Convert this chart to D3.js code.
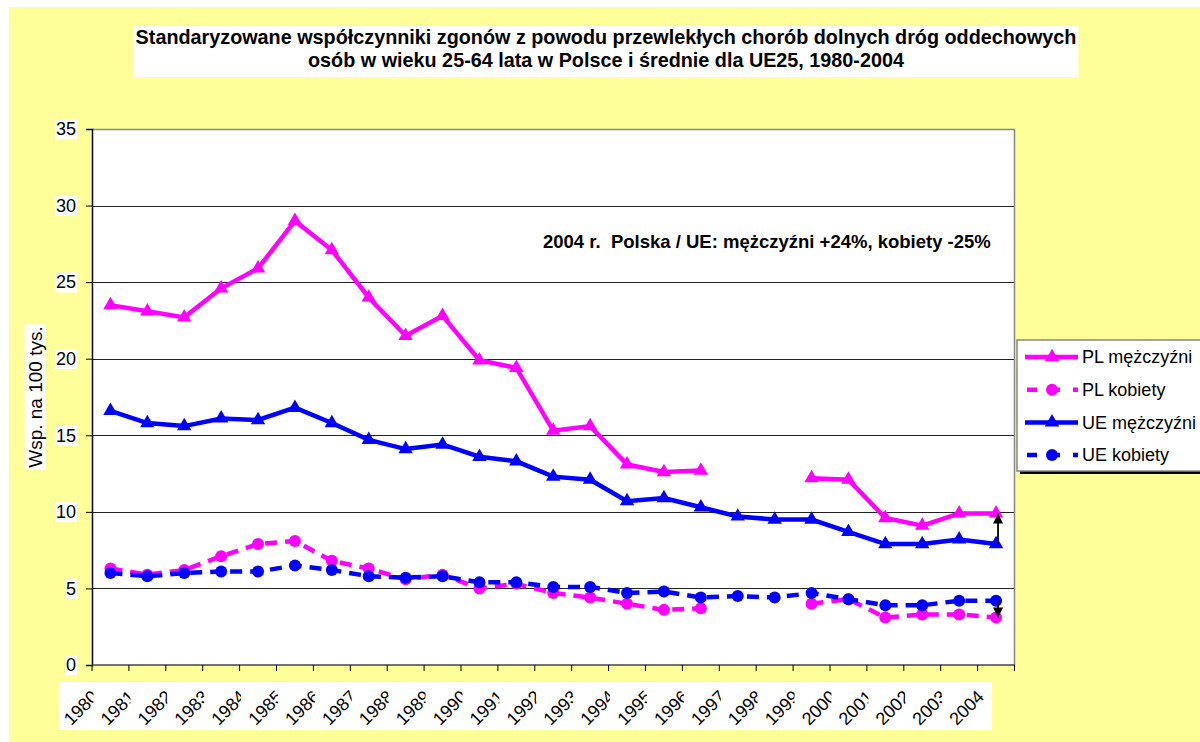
<!DOCTYPE html>
<html>
<head>
<meta charset="utf-8">
<script src="https://cdn.jsdelivr.net/npm/d3@7"></script>
<style>
  body { margin: 0; background: #fff; }
  svg { display: block; font-family: Arial, "Liberation Sans", sans-serif; }
</style>
</head>
<body>
<svg id="chart" width="1200" height="742"></svg>
<script>
const years = ["1980", "1981", "1982", "1983", "1984", "1985", "1986", "1987", "1988", "1989",
               "1990", "1991", "1992", "1993", "1994", "1995", "1996", "1997", "1998", "1999",
               "2000", "2001", "2002", "2003", "2004"]

// null = brak danych (1997-1998 dla Polski)
const plMen   = [23.5, 23.1, 22.7, 24.6, 25.9, 29.0, 27.1, 24.0, 21.5, 22.8, 19.9, 19.4, 15.3, 15.6, 13.1, 12.6, 12.7, null, null, 12.2, 12.1, 9.6, 9.1, 9.9, 9.9]
const plWomen = [6.3, 5.9, 6.2, 7.1, 7.9, 8.1, 6.8, 6.3, 5.6, 5.9, 5.0, 5.3, 4.7, 4.4, 4.0, 3.6, 3.7, null, null, 4.0, 4.3, 3.1, 3.3, 3.3, 3.1]
const ueMen   = [16.6, 15.8, 15.6, 16.1, 16.0, 16.8, 15.8, 14.7, 14.1, 14.4, 13.6, 13.3, 12.3, 12.1, 10.7, 10.9, 10.3, 9.7, 9.5, 9.5, 8.7, 7.9, 7.9, 8.2, 7.9]
const ueWomen = [6.0, 5.8, 6.0, 6.1, 6.1, 6.5, 6.2, 5.8, 5.7, 5.8, 5.4, 5.4, 5.1, 5.1, 4.7, 4.8, 4.4, 4.5, 4.4, 4.7, 4.3, 3.9, 3.9, 4.2, 4.2]

const yTicks = [0, 5, 10, 15, 20, 25, 30, 35]
const seriesNames = ["PL mężczyźni", "PL kobiety", "UE mężczyźni", "UE kobiety"]
const titleLines = [
    "Standaryzowane współczynniki zgonów z powodu przewlekłych chorób dolnych dróg oddechowych",
    "osób w wieku 25-64 lata w Polsce i średnie dla UE25, 1980-2004"
]
const noteText = "2004 r.  Polska / UE: mężczyźni +24%, kobiety -25%"
const yTitle = "Wsp. na 100 tys."

const series = [
    {name: seriesNames[0], values: plMen,   color: "#ff00ff", dashed: false, marker: "triangle"},
    {name: seriesNames[1], values: plWomen, color: "#ff00ff", dashed: true,  marker: "circle"},
    {name: seriesNames[2], values: ueMen,   color: "#0000ff", dashed: false, marker: "triangle"},
    {name: seriesNames[3], values: ueWomen, color: "#0000ff", dashed: true,  marker: "circle"}
]

const svg = d3.select("#chart")
const plot = {left: 92, right: 1014.5, top: 129, bottom: 665}

const x = d3.scaleBand().domain(years).range([plot.left, plot.right])
const xc = yr => x(yr) + x.bandwidth() / 2
const y = d3.scaleLinear().domain([0, 35]).range([plot.bottom, plot.top])

// tło wykresu
svg.append("rect")
    .attr("x", 9).attr("y", 7).attr("width", 1191).attr("height", 735)
    .attr("fill", "#ffff99")

// tytuł na białym tle
const title = svg.append("g")
const titleText = title.append("text")
    .attr("text-anchor", "middle")
    .style("font-weight", "bold").style("font-size", "19.8px")
titleText.selectAll("tspan").data(titleLines).join("tspan")
    .attr("x", 606).attr("y", (d, i) => 44 + i * 23)
    .text(d => d)
const tb = titleText.node().getBBox()
title.insert("rect", "text")
    .attr("x", tb.x - 2).attr("y", 26).attr("width", tb.width + 4).attr("height", 51)
    .attr("fill", "#fff")

// obszar wykresu
svg.append("rect")
    .attr("x", plot.left).attr("y", plot.top)
    .attr("width", plot.right - plot.left).attr("height", plot.bottom - plot.top)
    .attr("fill", "#fff")

svg.append("g").selectAll("line")
    .data(yTicks.filter(v => v > 0 && v < 35))
    .join("line")
    .attr("x1", plot.left).attr("x2", plot.right)
    .attr("y1", d => Math.round(y(d)) + 0.5).attr("y2", d => Math.round(y(d)) + 0.5)
    .attr("stroke", "#222").attr("stroke-width", 1)

// ramka górna i prawa (szara)
svg.append("path")
    .attr("d", `M${plot.left},${plot.top + 0.5}H${plot.right}V${plot.bottom}`)
    .attr("fill", "none").attr("stroke", "#888").attr("stroke-width", 1.5)

// oś Y
const yAxis = svg.append("g")
    .attr("transform", `translate(${plot.left},0)`)
    .call(d3.axisLeft(y).tickValues(yTicks).tickSize(6).tickPadding(10).tickFormat(d3.format("d")))
yAxis.select(".domain").attr("stroke", "#000").attr("stroke-width", 1.5)
yAxis.selectAll(".tick line").attr("stroke", "#000")
yAxis.selectAll(".tick text").style("font-size", "18px").attr("fill", "#000").attr("font-family", null)
yAxis.selectAll(".tick").each(function () {
    const t = d3.select(this).select("text")
    const b = t.node().getBBox()
    d3.select(this).insert("rect", "text")
        .attr("x", b.x - 1).attr("y", b.y)
        .attr("width", b.width + 2).attr("height", b.height)
        .attr("fill", "#fff")
})

// tytuł osi Y
const yt = svg.append("g").attr("transform", "translate(35,397) rotate(-90)")
const ytText = yt.append("text")
    .attr("text-anchor", "middle").attr("dy", "0.35em")
    .style("font-size", "19px")
    .text(yTitle)
const yb = ytText.node().getBBox()
yt.insert("rect", "text")
    .attr("x", yb.x - 2).attr("y", yb.y).attr("width", yb.width + 4).attr("height", yb.height)
    .attr("fill", "#fff")

// oś X
svg.append("line")
    .attr("x1", plot.left).attr("x2", plot.right)
    .attr("y1", plot.bottom).attr("y2", plot.bottom)
    .attr("stroke", "#444").attr("stroke-width", 1.5)
svg.append("g").selectAll("line")
    .data(years.map(yr => x(yr)).concat([plot.right]))
    .join("line")
    .attr("x1", d => d).attr("x2", d => d)
    .attr("y1", plot.bottom).attr("y2", plot.bottom + 6)
    .attr("stroke", "#000")

svg.append("rect")
    .attr("x", 59).attr("y", 682).attr("width", 933).attr("height", 48)
    .attr("fill", "#fff")

// etykiety lat - jak w Excelu ostatni znak przycięty (oprócz ostatniej)
const defs = svg.append("defs")
defs.selectAll("clipPath.lbl")
    .data(years)
    .join("clipPath")
    .attr("class", "lbl")
    .attr("id", (d, i) => "clip-lbl-" + i)
    .append("rect")
    .attr("x", 0).attr("y", 682)
    .attr("width", (d, i) => i < years.length - 1 ? xc(d) - 17 : 1200)
    .attr("height", 48)

svg.append("g").selectAll("g")
    .data(years)
    .join("g")
    .attr("clip-path", (d, i) => `url(#clip-lbl-${i})`)
    .append("text")
    .attr("transform", d => `translate(${xc(d) - 11},698) rotate(-45)`)
    .attr("text-anchor", "end")
    .style("font-size", "18px")
    .text(d => d)

// serie
const line = d3.line()
    .defined(d => d.v != null)
    .x(d => xc(d.yr))
    .y(d => y(d.v))

const triangle = d3.symbol(d3.symbolTriangle, 90)

series.forEach(s => {
    const pts = s.values.map((v, i) => ({yr: years[i], v}))
    svg.append("path")
        .datum(pts)
        .attr("d", line)
        .attr("fill", "none")
        .attr("stroke", s.color)
        .attr("stroke-width", 4.5)
        .attr("stroke-dasharray", s.dashed ? "12,8" : null)

    const valid = pts.filter(d => d.v != null)
    if (s.marker === "triangle") {
        svg.append("g").selectAll("path")
            .data(valid)
            .join("path")
            .attr("d", triangle)
            .attr("transform", d => `translate(${xc(d.yr)},${y(d.v)})`)
            .attr("fill", s.color)
    } else {
        svg.append("g").selectAll("circle")
            .data(valid)
            .join("circle")
            .attr("cx", d => xc(d.yr)).attr("cy", d => y(d.v))
            .attr("r", 6)
            .attr("fill", s.color)
    }
})

// strzałki dla 2004
defs.append("marker")
    .attr("id", "arrow")
    .attr("viewBox", "0 0 10 10")
    .attr("refX", 10).attr("refY", 5)
    .attr("markerWidth", 12).attr("markerHeight", 10)
    .attr("markerUnits", "userSpaceOnUse")
    .attr("orient", "auto")
    .append("path")
    .attr("d", "M0,0L10,5L0,10Z")
    .attr("fill", "#000")

const last = years.length - 1
const arrowX = xc(years[last]) + 2
const arrows = [
    {from: ueMen[last], to: plMen[last]},
    {from: ueWomen[last], to: plWomen[last]}
]
svg.append("g").selectAll("line")
    .data(arrows)
    .join("line")
    .attr("x1", arrowX).attr("x2", arrowX)
    .attr("y1", d => y(d.from)).attr("y2", d => y(d.to))
    .attr("stroke", "#000").attr("stroke-width", 1.8)
    .attr("marker-end", "url(#arrow)")

// adnotacja
svg.append("text")
    .attr("x", 543).attr("y", 248)
    .style("font-weight", "bold").style("font-size", "18.5px")
    .style("white-space", "pre")
    .text(noteText)

// legenda
const legend = svg.append("g").attr("transform", "translate(1017,340)")
legend.append("rect")
    .attr("x", 3).attr("y", 3).attr("width", 200).attr("height", 131)
    .attr("fill", "#000")
legend.append("rect")
    .attr("x", 0).attr("y", 0).attr("width", 200).attr("height", 131)
    .attr("fill", "#fff").attr("stroke", "#888").attr("stroke-width", 1.5)

const item = legend.selectAll("g.item")
    .data(series)
    .join("g")
    .attr("class", "item")
    .attr("transform", (d, i) => `translate(0,${17 + i * 32.7})`)

item.append("line")
    .attr("x1", d => d.dashed ? 10 : 8).attr("x2", 61)
    .attr("stroke", d => d.color).attr("stroke-width", 4.5)
    .attr("stroke-dasharray", d => d.dashed ? "10,13" : null)
item.filter(d => d.marker === "triangle").append("path")
    .attr("d", triangle)
    .attr("transform", "translate(35,0)")
    .attr("fill", d => d.color)
item.filter(d => d.marker === "circle").append("circle")
    .attr("cx", 35).attr("r", 6)
    .attr("fill", d => d.color)
item.append("text")
    .attr("x", 65).attr("dy", "0.35em")
    .style("font-size", "18px")
    .text(d => d.name)
</script>
</body>
</html>
